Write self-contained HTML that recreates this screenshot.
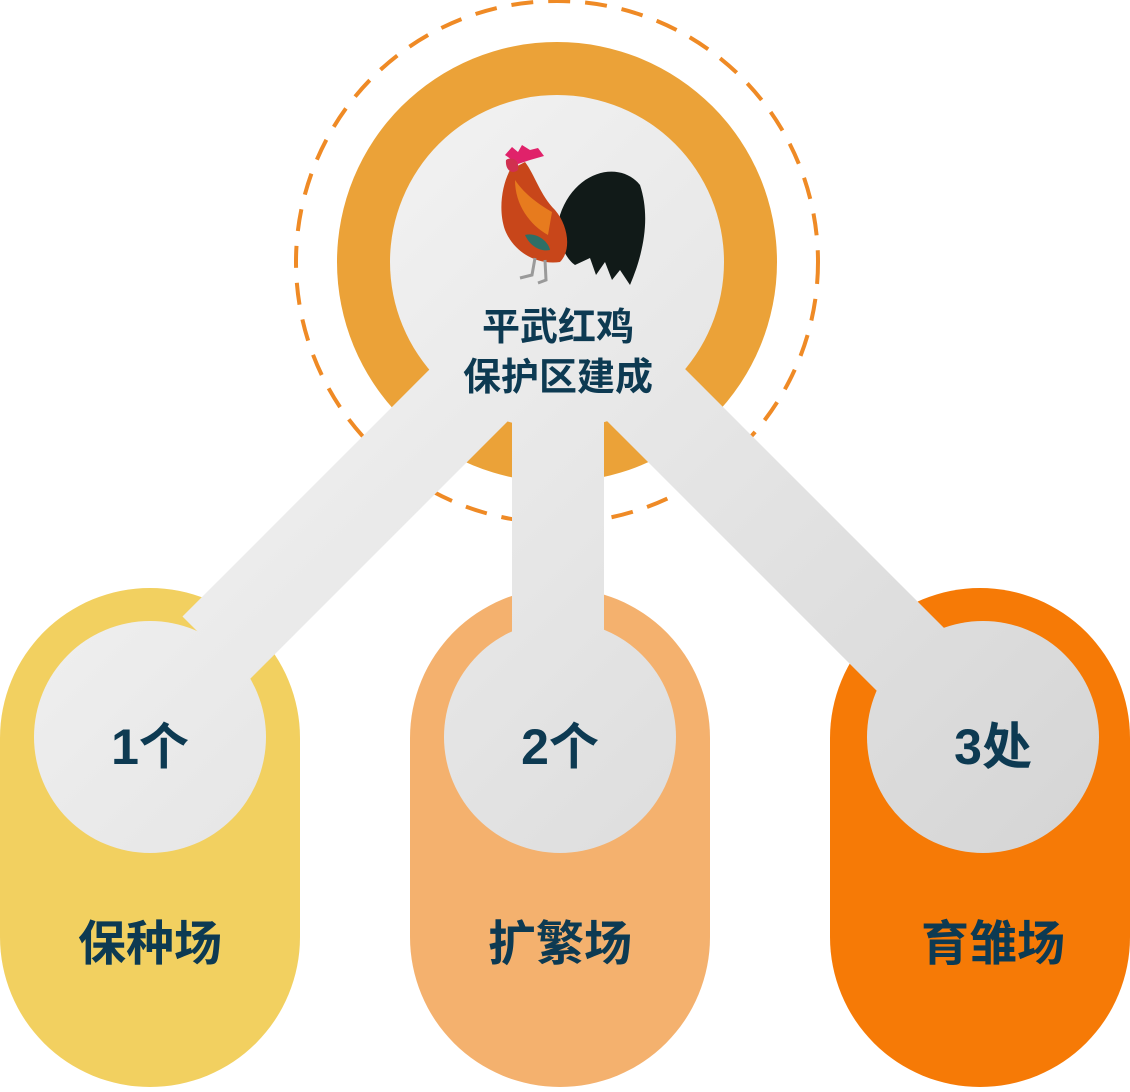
<!DOCTYPE html>
<html><head><meta charset="utf-8"><style>
html,body{margin:0;padding:0;background:#fff;}
body{width:1130px;height:1087px;overflow:hidden;}
svg text{font-family:"Liberation Sans","Noto Sans CJK SC",sans-serif;font-weight:bold;fill:#0d3a52;}
</style></head><body>
<svg width="1130" height="1087" viewBox="0 0 1130 1087" xmlns="http://www.w3.org/2000/svg">
<defs>
<linearGradient id="g" gradientUnits="userSpaceOnUse" x1="200" y1="100" x2="1000" y2="900">
<stop offset="0" stop-color="#f6f6f6"/><stop offset="1" stop-color="#d6d6d6"/>
</linearGradient>
</defs>
<circle cx="557" cy="262" r="261" fill="none" stroke="#ef8a25" stroke-width="4" stroke-dasharray="22 15"/>
<circle cx="557" cy="262" r="220" fill="#eba238"/>
<rect x="0" y="588" width="300" height="499" rx="150" fill="#f2d060"/>
<rect x="410" y="588" width="300" height="499" rx="150" fill="#f4b16e"/>
<rect x="830" y="588" width="300" height="499" rx="150" fill="#f67a06"/>
<g stroke="url(#g)" stroke-width="92" fill="none">
<line x1="557" y1="307" x2="215" y2="649"/>
<line x1="558" y1="300" x2="558" y2="700"/>
<line x1="557" y1="306" x2="920" y2="669"/>
</g>
<g fill="url(#g)">
<circle cx="557" cy="262" r="167"/>
<circle cx="150" cy="737" r="116"/>
<circle cx="560" cy="737" r="116"/>
<circle cx="983" cy="737" r="116"/>
</g>
<g>
<path d="M560 215 C575 170 620 160 640 185 C650 215 645 250 630 285 L620 270 L612 280 L605 262 L596 275 L590 258 L575 265 C565 258 556 240 560 215Z" fill="#111a18"/>
<path d="M510 170 C502 185 498 210 505 230 C515 255 540 265 560 262 C572 250 568 225 555 210 C540 195 535 175 525 162 Z" fill="#c8461a"/>
<path d="M515 180 C525 195 540 205 552 212 L548 235 C530 225 515 205 515 180Z" fill="#e77b1e"/>
<path d="M525 235 C535 232 548 240 550 250 C540 252 530 246 525 235Z" fill="#2d6f66"/>
<path d="M505 155 L512 147 L518 152 L522 145 L530 150 L538 148 L544 156 L530 160 L518 164 Z" fill="#e0226a"/>
<path d="M506 160 C512 156 520 160 518 170 C512 175 505 170 506 160Z" fill="#d03050"/>
<path d="M535 258 L532 275 L520 278 M545 260 L546 280 L538 283" stroke="#9a9a9a" stroke-width="3" fill="none"/>
</g>
<text x="558" y="340" font-size="38" text-anchor="middle">平武红鸡</text>
<text x="558" y="390" font-size="38" text-anchor="middle">保护区建成</text>
<text x="150" y="764" font-size="50" text-anchor="middle">1个</text>
<text x="560" y="764" font-size="50" text-anchor="middle">2个</text>
<text x="993" y="764" font-size="50" text-anchor="middle">3处</text>
<text x="150" y="960" font-size="48" text-anchor="middle">保种场</text>
<text x="560" y="960" font-size="48" text-anchor="middle">扩繁场</text>
<text x="993" y="960" font-size="48" text-anchor="middle">育雏场</text>
</svg>
</body></html>
